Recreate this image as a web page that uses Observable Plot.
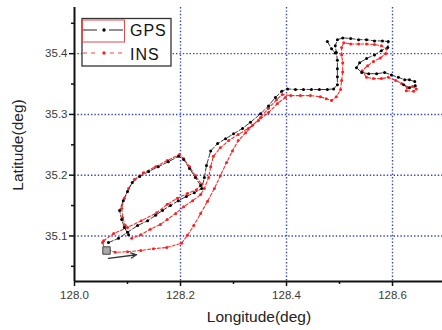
<!DOCTYPE html>
<html>
<head>
<meta charset="utf-8">
<script src="https://cdn.jsdelivr.net/npm/d3@7"></script>
<script src="https://cdn.jsdelivr.net/npm/@observablehq/plot@0.6"></script>
<style>
  html, body { margin: 0; padding: 0; background: white; }
  #chart { width: 442px; height: 330px; overflow: hidden; }
</style>
</head>
<body>
<div id="chart"></div>
<script>
// ---- Data (longitude, latitude); null breaks a track into pieces ----
const gpsTrack = [
  [128.064,35.089],[128.083,35.096],[128.100,35.106],[128.119,35.117],[128.138,35.125],
  [128.153,35.134],[128.166,35.142],[128.181,35.150],[128.196,35.158],[128.211,35.165],
  [128.226,35.171],[128.240,35.178],[128.245,35.196],[128.249,35.216],[128.257,35.240],
  [128.270,35.252],[128.285,35.260],[128.300,35.268],[128.317,35.277],[128.332,35.287],
  [128.351,35.301],[128.366,35.314],[128.379,35.328],[128.391,35.338],[128.402,35.342],
  [128.417,35.341],[128.432,35.341],[128.447,35.341],[128.462,35.341],[128.477,35.341],
  [128.489,35.342],[128.496,35.349],[128.496,35.362],[128.496,35.375],[128.496,35.389],
  [128.494,35.402],[128.492,35.413],[128.496,35.423],[128.506,35.426],[128.521,35.425],
  [128.536,35.423],[128.551,35.423],[128.566,35.421],[128.581,35.421],[128.592,35.420],
  [128.591,35.410],[128.579,35.405],[128.566,35.398],[128.551,35.392],[128.538,35.385],
  [128.532,35.377],[128.542,35.369],[128.555,35.367],[128.570,35.367],[128.585,35.369],
  [128.598,35.365],[128.611,35.361],[128.623,35.357],[128.632,35.357],[128.642,35.354],
  [128.643,35.347],[128.632,35.344],[128.621,35.349],
  null,
  [128.477,35.420],[128.485,35.408],[128.492,35.401],
  null,
  [128.238,35.183],[128.228,35.196],[128.217,35.211],[128.206,35.226],[128.196,35.231],
  [128.177,35.222],[128.158,35.214],[128.140,35.206],[128.123,35.198],[128.109,35.188],
  [128.100,35.173],[128.092,35.158],[128.085,35.142],[128.089,35.127],[128.094,35.114],
  [128.102,35.102]
];

const insTrack = [
  [128.053,35.089],[128.057,35.079],[128.077,35.073],[128.100,35.074],[128.125,35.076],
  [128.149,35.079],[128.174,35.081],[128.202,35.088],[128.213,35.101],[128.225,35.117],
  [128.238,35.137],[128.251,35.157],[128.264,35.178],[128.275,35.199],[128.287,35.221],
  [128.298,35.240],[128.309,35.257],[128.323,35.270],[128.336,35.282],[128.351,35.295],
  [128.366,35.310],[128.381,35.324],[128.392,35.333],[128.408,35.331],[128.426,35.331],
  [128.445,35.331],[128.464,35.329],[128.475,35.326],[128.485,35.323],[128.494,35.329],
  [128.502,35.341],[128.504,35.356],[128.506,35.370],[128.506,35.385],[128.504,35.398],
  [128.504,35.410],[128.508,35.418],[128.521,35.416],[128.536,35.416],[128.551,35.416],
  [128.566,35.415],[128.579,35.413],[128.589,35.408],[128.587,35.400],[128.577,35.393],
  [128.564,35.387],[128.553,35.380],[128.543,35.372],[128.551,35.361],[128.564,35.359],
  [128.579,35.359],[128.592,35.361],[128.606,35.356],[128.617,35.351],[128.628,35.344],
  [128.638,35.346],[128.645,35.342],[128.640,35.338],[128.626,35.339],
  null,
  [128.398,35.328],[128.383,35.318],[128.366,35.303],[128.347,35.290],[128.328,35.277],
  [128.309,35.267],[128.291,35.257],[128.275,35.245],[128.262,35.231],[128.257,35.214],
  [128.253,35.196],[128.245,35.178],[128.238,35.168],[128.223,35.158],[128.206,35.148],
  [128.191,35.137],[128.175,35.127],[128.162,35.119],[128.143,35.111],[128.125,35.102],
  [128.108,35.096],
  null,
  [128.055,35.092],[128.074,35.104],[128.100,35.114],[128.126,35.125],[128.155,35.138],
  [128.175,35.152],[128.194,35.162],[128.213,35.170],[128.230,35.176],[128.240,35.185],
  [128.228,35.199],[128.217,35.214],[128.206,35.227],[128.198,35.234],[128.175,35.224],
  [128.153,35.214],[128.130,35.204],[128.113,35.193],[128.102,35.178],[128.094,35.162],
  [128.089,35.145],[128.091,35.130],[128.096,35.117]
];

const startPoint = [128.0604, 35.076];
const arrowFrom = [128.064, 35.063];
const arrowTo = [128.117, 35.069];

const majorLon = [128.0, 128.2, 128.4, 128.6];
const minorLon = [128.1, 128.3, 128.5];
const majorLat = [35.1, 35.2, 35.3, 35.4];
const minorLat = [35.05, 35.15, 35.25, 35.35, 35.45];
const gridLon = [128.2, 128.4, 128.6];
const gridLat = [35.1, 35.2, 35.3, 35.4];

const xTitle = "Longitude(deg)";
const yTitle = "Latitude(deg)";
const seriesNames = ["GPS", "INS"];

// ---- Build ----
const toRows = t => t.map(p => p ? {lon: p[0], lat: p[1]} : {lon: NaN, lat: NaN});
const gps = toRows(gpsTrack);
const ins = toRows(insTrack);

const gridStyle = {stroke: "#3445c0", strokeOpacity: 1, strokeWidth: 1.4, strokeDasharray: "1.4,2"};

const chart = Plot.plot({
  width: 442,
  height: 330,
  marginLeft: 74,
  marginRight: 0,
  marginTop: 7,
  marginBottom: 49,
  style: {fontFamily: "'Liberation Sans', Arial, sans-serif", fontSize: "11.5px", background: "white", color: "#333"},
  x: {domain: [128, 128.6943]},
  y: {domain: [35.025, 35.476]},
  marks: [
    Plot.gridX(gridLon, gridStyle),
    Plot.gridY(gridLat, gridStyle),
    Plot.axisX({ticks: minorLon, tickSize: 3, text: null, label: null, stroke: "#111", strokeWidth: 1.5}),
    Plot.axisX({ticks: majorLon, tickSize: 5, tickPadding: 4, tickFormat: d => d.toFixed(1), label: null, stroke: "#111", strokeWidth: 1.5, fill: "#3a3a3a"}),
    Plot.axisY({ticks: minorLat, tickSize: 3, text: null, label: null, stroke: "#111", strokeWidth: 1.5}),
    Plot.axisY({ticks: majorLat, tickSize: 5, tickPadding: 2, tickFormat: d => d.toFixed(1), label: null, stroke: "#111", strokeWidth: 1.5, fill: "#3a3a3a"}),
    Plot.ruleX([128], {stroke: "#111", strokeWidth: 2}),
    Plot.ruleY([35.025], {stroke: "#111", strokeWidth: 2}),
    Plot.line(ins, {x: "lon", y: "lat", stroke: "#ff2a2a", strokeWidth: 1.1, strokeDasharray: "3,2"}),
    Plot.line(gps, {x: "lon", y: "lat", stroke: "#3a3a3a", strokeWidth: 1, strokeDasharray: "5,2"}),
    Plot.dot(ins, {x: "lon", y: "lat", r: 1.5, fill: "#ff2020", stroke: null}),
    Plot.dot(gps, {x: "lon", y: "lat", r: 1.5, fill: "#000", stroke: null}),
    Plot.dot([startPoint], {x: d => d[0], y: d => d[1], symbol: "square", r: 4.2, fill: "#a8a8a8", stroke: "#444", strokeWidth: 1}),
    Plot.arrow([[arrowFrom, arrowTo]], {x1: d => d[0][0], y1: d => d[0][1], x2: d => d[1][0], y2: d => d[1][1], stroke: "#333", strokeWidth: 1.3, headLength: 7, headAngle: 50, bend: 0})
  ]
});

document.getElementById("chart").appendChild(chart);

// ---- Titles and legend ----
const svg = d3.select(chart);
svg.append("text").attr("x", 259).attr("y", 322).attr("text-anchor", "middle")
  .attr("font-size", "15.5px").attr("fill", "#222").text(xTitle);
svg.append("text").attr("transform", "translate(23,145) rotate(-90)").attr("text-anchor", "middle")
  .attr("font-size", "15.5px").attr("fill", "#222").text(yTitle);

const lg = svg.append("g").attr("text-anchor", "start");
lg.append("rect").attr("x", 82).attr("y", 18.5).attr("width", 89).attr("height", 47.5)
  .attr("fill", "white").attr("stroke", "#333").attr("stroke-width", 1.3);
lg.append("rect").attr("x", 82.5).attr("y", 20).attr("width", 42).attr("height", 22)
  .attr("fill", "none").attr("stroke", "#e04848").attr("stroke-width", 1);
// GPS sample
lg.append("line").attr("x1", 83).attr("x2", 97).attr("y1", 30).attr("y2", 30).attr("stroke", "#555").attr("stroke-width", 1.3);
lg.append("line").attr("x1", 109).attr("x2", 123).attr("y1", 30).attr("y2", 30).attr("stroke", "#555").attr("stroke-width", 1.3);
lg.append("circle").attr("cx", 104).attr("cy", 30).attr("r", 1.7).attr("fill", "#000");
lg.append("text").attr("x", 130).attr("y", 36).attr("text-anchor", "start").attr("font-size", "16px").attr("letter-spacing", "1px").attr("fill", "#111").text(seriesNames[0]);
// INS sample
lg.append("line").attr("x1", 83).attr("x2", 98).attr("y1", 53).attr("y2", 53).attr("stroke", "#ff4040").attr("stroke-width", 1.2).attr("stroke-dasharray", "4,4");
lg.append("line").attr("x1", 110).attr("x2", 124).attr("y1", 53).attr("y2", 53).attr("stroke", "#ff4040").attr("stroke-width", 1.2).attr("stroke-dasharray", "4,4");
lg.append("circle").attr("cx", 104).attr("cy", 53).attr("r", 1.7).attr("fill", "#ff2020");
lg.append("text").attr("x", 130).attr("y", 60).attr("text-anchor", "start").attr("font-size", "16px").attr("letter-spacing", "1px").attr("fill", "#111").text(seriesNames[1]);
</script>
</body>
</html>
